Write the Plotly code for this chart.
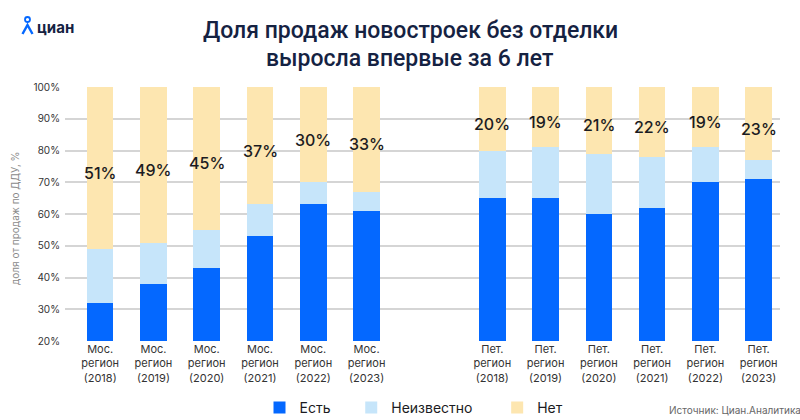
import plotly.graph_objects as go

years = ["2018", "2019", "2020", "2021", "2022", "2023"]
regions = ["Мос.<br>регион", "Пет.<br>регион"]

est_mos = [32, 38, 43, 53, 63, 61]
unk_mos = [17, 13, 12, 10, 7, 6]
no_mos = [51, 49, 45, 37, 30, 33]

est_pet = [65, 65, 60, 62, 70, 71]
unk_pet = [15, 16, 19, 16, 11, 6]
no_pet = [20, 19, 21, 22, 19, 23]

series_names = ["Есть", "Неизвестно", "Нет"]
colors = ["#0468FF", "#C6E5FA", "#FDE6B0"]

group_offset = 7.36
x_mos = list(range(len(years)))
x_pet = [group_offset + i for i in range(len(years))]
xs = x_mos + x_pet
labels = [f"{regions[0]}<br>({y})" for y in years] + [f"{regions[1]}<br>({y})" for y in years]

est = est_mos + est_pet
unk = unk_mos + unk_pet
no = no_mos + no_pet

FONT = "Inter, Roboto, sans-serif"
PADS = ["\u00a0" * 4, "\u00a0" * 5, ""]

fig = go.Figure()
for name, vals, col, pad in zip(series_names, [est, unk, no], colors, PADS):
    fig.add_trace(go.Bar(
        x=xs, y=vals, name=name + pad,
        marker=dict(color=col, line=dict(width=0)),
        width=0.5,
    ))

# value labels on the "Нет" segment
for x, e, u, n in zip(xs, est, unk, no):
    fig.add_annotation(
        x=x, y=e + u + n / 2, yref="y", xref="x",
        text=f"{n}%", showarrow=False, yshift=-5,
        font=dict(family=FONT, size=16, color="#1b1b22", weight=500),
    )

W = 800 - 65 - 20
H = 420 - 87 - 79
def px(xp):
    return (xp - 65) / W
def py(yp):
    return (341 - yp) / H

fig.update_layout(
    barmode="stack",
    width=800, height=420,
    margin=dict(l=65, r=20, t=87, b=79, autoexpand=False),
    paper_bgcolor="white", plot_bgcolor="white",
    bargap=0,
    showlegend=True,
    legend=dict(
        orientation="h", x=px(414), xanchor="center", y=py(408), yanchor="middle",
        font=dict(family=FONT, size=14, color="#1b1b22"),
        itemclick=False, traceorder="normal", itemwidth=30,
    ),
    xaxis=dict(
        range=[-0.66, 12.76], tickmode="array", tickvals=xs, ticktext=labels,
        showgrid=False, zeroline=False, showline=False, ticks="",
        tickfont=dict(family=FONT, size=11, color="#333"),
    ),
    yaxis=dict(
        range=[20, 100], dtick=10, tick0=20, ticksuffix="%",
        showgrid=True, gridcolor="#D5D5D5", gridwidth=1.5,
        zeroline=False, showline=False, ticks="", ticklabelstandoff=4,
        tickfont=dict(family=FONT, size=10, color="#333"),
    ),
    font=dict(family=FONT),
)

# y axis title
fig.add_annotation(
    xref="paper", yref="paper", x=px(15), y=py(218), xanchor="center", yanchor="middle",
    text="доля от продаж по ДДУ, %", textangle=-90, showarrow=False,
    font=dict(family=FONT, size=10, color="#8a8a8a"),
)

# title
fig.add_annotation(
    xref="paper", yref="paper", x=px(410), y=py(31), xanchor="center", yanchor="middle",
    text="Доля продаж новостроек без отделки", showarrow=False,
    font=dict(family="Roboto, sans-serif", size=23, color="#152242", weight=500),
)
fig.add_annotation(
    xref="paper", yref="paper", x=px(410), y=py(58), xanchor="center", yanchor="middle",
    text="выросла впервые за 6 лет", showarrow=False,
    font=dict(family="Roboto, sans-serif", size=23, color="#152242", weight=500),
)

# logo
fig.add_annotation(
    xref="paper", yref="paper", x=px(35), y=py(28), xanchor="left", yanchor="middle",
    text="<b>циан</b>", showarrow=False,
    font=dict(family=FONT, size=15, color="#152242"),
)
fig.add_shape(type="circle", xref="paper", yref="paper",
              x0=px(25), x1=px(30), y0=py(22), y1=py(17),
              line=dict(color="#0468FF", width=1.8))
fig.add_shape(type="path", xref="paper", yref="paper",
              path=f"M {px(22.5)},{py(34)} L {px(27.5)},{py(25)} L {px(32.5)},{py(34)}",
              line=dict(color="#0468FF", width=2.4))

# source
fig.add_annotation(
    xref="paper", yref="paper", x=px(803), y=py(410), xanchor="right", yanchor="middle",
    text="Источник: Циан.Аналитика", showarrow=False,
    font=dict(family=FONT, size=10, color="#666"),
)

fig.write_html("out.html", config={"displayModeBar": False},
               post_script="document.body.style.margin='0';document.body.style.overflow='hidden';")
